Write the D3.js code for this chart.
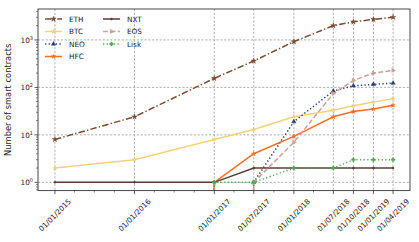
<!DOCTYPE html>
<html><head><meta charset="utf-8">
<script src="https://cdn.jsdelivr.net/npm/d3@7"></script>
<style>body{margin:0;background:#fff}svg{display:block;font-family:"DejaVu Sans",sans-serif}</style>
</head><body>
<svg id="c" width="419" height="242"></svg>
<script>
const dates = ["2015-01-01","2016-01-01","2017-01-01","2017-07-01","2018-01-01","2018-07-01","2018-10-01","2019-01-01","2019-04-01"];
const tickLabels = ["01/01/2015","01/01/2016","01/01/2017","01/07/2017","01/01/2018","01/07/2018","01/10/2018","01/01/2019","01/04/2019"];
const seriesNames = ["ETH","BTC","NEO","HFC","NXT","EOS","Lisk"];
const ETH  = [8, 24, 155, 360, 920, 2000, 2400, 2700, 3000];
const BTC  = [2, 3, 8, 13, 24, 33, 41, 49, 58];
const NEO  = [0, 0, 0, 1, 19, 84, 108, 116, 123];
const HFC  = [0, 0, 1, 4, 9.3, 24, 31, 35, 42];
const NXT  = [1, 1, 1, 2, 2, 2, 2, 2, 2];
const EOS  = [0, 0, 0, 1, 7, 74, 140, 200, 228];
const Lisk = [0, 0, 1, 1, 2, 2, 3, 3, 3];
const yTickValues = [1, 10, 100, 1000];

const styles = {
  ETH:  {color:"#7a4a2f", dash:"6.5,2.2,1.4,2.2", sym:d3.symbolStar, size:9},
  BTC:  {color:"#f1d27c", dash:null, sym:d3.symbolStar, size:6},
  NEO:  {color:"#2b3f73", dash:"1.3,2.3", sym:d3.symbolTriangle, size:8},
  HFC:  {color:"#ff6d1f", dash:null, sym:d3.symbolStar, size:6},
  NXT:  {color:"#5a3c32", dash:null, sym:d3.symbolCircle, size:3},
  EOS:  {color:"#c9a098", dash:"5,2.4", sym:d3.symbolTriangle, size:8, rot:90},
  Lisk: {color:"#55aa55", dash:"1.3,2.3", sym:d3.symbolCross, size:8}
};
const values = {ETH, BTC, NEO, HFC, NXT, EOS, Lisk};

const m = {left:38, right:410, top:9, bottom:190.6};
const svg = d3.select("#c");
const parse = d3.utcParse("%Y-%m-%d");
const dts = dates.map(parse);

const t0 = +dts[0], t1 = +dts[dts.length-1], tp = (t1 - t0) * 0.05;
const x = d3.scaleUtc().domain([new Date(t0 - tp), new Date(t1 + tp)]).range([m.left, m.right]);
const lmax = Math.log10(d3.max(ETH)), lmin = 0, lp = (lmax - lmin) * 0.05;
const y = d3.scaleLog().domain([Math.pow(10, lmin - lp), Math.pow(10, lmax + lp)]).range([m.bottom, m.top]);
const yv = v => y(Math.max(v, 1e-30));

// grid
const g = svg.append("g");
g.selectAll(".gx").data(dts).join("line")
  .attr("x1", d => x(d)).attr("x2", d => x(d)).attr("y1", m.top).attr("y2", m.bottom)
  .attr("stroke", "#9a9a9a").attr("stroke-width", 0.8).attr("stroke-dasharray", "2.2,1.6");
g.selectAll(".gy").data(yTickValues).join("line")
  .attr("y1", d => y(d)).attr("y2", d => y(d)).attr("x1", m.left).attr("x2", m.right)
  .attr("stroke", "#9a9a9a").attr("stroke-width", 0.8).attr("stroke-dasharray", "2.2,1.6");

svg.append("clipPath").attr("id", "clip").append("rect")
  .attr("x", m.left).attr("y", m.top).attr("width", m.right - m.left).attr("height", m.bottom - m.top);
const plot = svg.append("g").attr("clip-path", "url(#clip)");

const line = d3.line().x(d => x(d.d)).y(d => yv(d.v));
seriesNames.forEach(name => {
  const s = styles[name];
  const data = values[name].map((v, i) => ({d: dts[i], v}));
  plot.append("path").datum(data).attr("d", line).attr("fill", "none")
    .attr("stroke", s.color).attr("stroke-width", 1.5)
    .attr("stroke-dasharray", s.dash);
  plot.selectAll(null).data(data.filter(d => d.v > 0)).join("path")
    .attr("d", d3.symbol(s.sym, s.size))
    .attr("transform", d => `translate(${x(d.d)},${yv(d.v)}) rotate(${s.rot||0})`)
    .attr("fill", s.color).attr("stroke", s.color).attr("stroke-width", 0.5);
});

// frame
svg.append("rect").attr("x", m.left).attr("y", m.top).attr("width", m.right - m.left).attr("height", m.bottom - m.top)
  .attr("fill", "none").attr("stroke", "#333").attr("stroke-width", 0.9);

// x ticks
const minorX = d3.utcMonth.every(3).range(x.domain()[0], x.domain()[1]).filter(d => !dts.some(t => Math.abs(t - d) < 864e5 * 5));
svg.selectAll(".mx").data(minorX).join("line")
  .attr("x1", d => x(d)).attr("x2", d => x(d)).attr("y1", m.bottom).attr("y2", m.bottom + 2)
  .attr("stroke", "#333").attr("stroke-width", 0.6);
svg.selectAll(".tx").data(dts).join("line")
  .attr("x1", d => x(d)).attr("x2", d => x(d)).attr("y1", m.bottom).attr("y2", m.bottom + 3.5)
  .attr("stroke", "#333").attr("stroke-width", 0.8);
const fs = 7.3;
const xl = svg.selectAll(".xl").data(dts).join("text")
  .attr("font-size", fs).attr("fill", "#222").attr("text-anchor", "middle").attr("dy", "0.35em")
  .text((d, i) => tickLabels[i]);
xl.each(function(d) {
  const L = this.getComputedTextLength();
  const half = (L + fs * 1.0) * Math.SQRT1_2 / 2;
  d3.select(this).attr("transform", `translate(${x(d)},${m.bottom + 7 + half}) rotate(-45)`);
});

// y ticks
const [ylo, yhi] = y.domain();
const minorY = [];
for (let k = -1; k <= 4; k++) for (let j = 2; j <= 9; j++) { const v = j * Math.pow(10, k); if (v > ylo && v < yhi) minorY.push(v); }
svg.selectAll(".my").data(minorY).join("line")
  .attr("y1", d => y(d)).attr("y2", d => y(d)).attr("x1", m.left - 2).attr("x2", m.left)
  .attr("stroke", "#333").attr("stroke-width", 0.6);
svg.selectAll(".ty").data(yTickValues).join("line")
  .attr("y1", d => y(d)).attr("y2", d => y(d)).attr("x1", m.left - 3.5).attr("x2", m.left)
  .attr("stroke", "#333").attr("stroke-width", 0.8);
const yl = svg.selectAll(".yl").data(yTickValues).join("text")
  .attr("x", m.left - 5).attr("y", d => y(d) + 2.8).attr("text-anchor", "end")
  .attr("font-size", fs).attr("fill", "#222");
yl.append("tspan").text("10");
yl.append("tspan").attr("font-size", 5).attr("dy", -3).text(d => Math.round(Math.log10(d)));

svg.append("text").attr("transform", `translate(11,${(m.top + m.bottom) / 2}) rotate(-90)`)
  .attr("text-anchor", "middle").attr("font-size", 8.3).attr("fill", "#222")
  .text("Number of smart contracts");

// legend
const legPos = [[45,19],[45,31.5],[45,44],[45,56.5],[103,19],[103,31.5],[103,44]];
seriesNames.forEach((name, i) => {
  const s = styles[name];
  const [lx, ly] = legPos[i];
  const lg = svg.append("g");
  lg.append("line").attr("x1", lx).attr("x2", lx + 17).attr("y1", ly).attr("y2", ly)
    .attr("stroke", s.color).attr("stroke-width", 1.5).attr("stroke-dasharray", s.dash);
  lg.append("path").attr("d", d3.symbol(s.sym, s.size))
    .attr("transform", `translate(${lx + 8.5},${ly}) rotate(${s.rot||0})`)
    .attr("fill", s.color).attr("stroke", s.color).attr("stroke-width", 0.5);
  lg.append("text").attr("x", lx + 24).attr("y", ly + 2.7).attr("font-size", fs).attr("fill", "#222").text(name);
});
</script>
</body></html>
